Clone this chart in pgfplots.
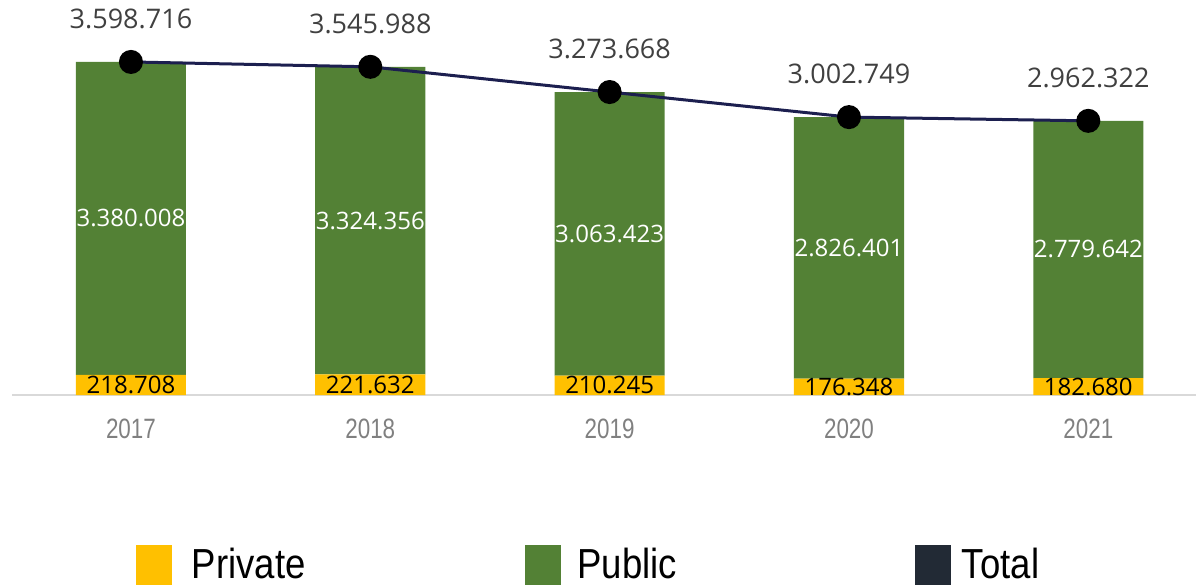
\documentclass[border=0pt]{standalone}
\usepackage{fontspec}
\setmainfont{Open Sans}
\newfontfamily\yearfont[FakeStretch=0.8]{Liberation Sans}
\newfontfamily\legfont[FakeStretch=0.87]{Liberation Sans}
\usepackage{pgfplots}
\usepackage{pgfplotstable}
\pgfplotsset{compat=1.18}
\definecolor{cPriv}{HTML}{FFC000}
\definecolor{cPub}{HTML}{538135}
\definecolor{cTot}{HTML}{222A35}
\definecolor{cLine}{HTML}{1C1F4F}
\definecolor{cLab}{HTML}{404040}
\definecolor{cYear}{HTML}{808080}
\definecolor{cAxis}{HTML}{D9D9D9}

\pgfplotstableread{
x private public total pubmid privmid totlab publab privlab
0 218708 3380008 3598716 1908712 109354 3.598.716 3.380.008 218.708
1 221632 3324356 3545988 1883810 110816 3.545.988 3.324.356 221.632
2 210245 3063423 3273668 1741957 105123 3.273.668 3.063.423 210.245
3 176348 2826401 3002749 1589549 88174 3.002.749 2.826.401 176.348
4 182680 2779642 2962322 1572501 91340 2.962.322 2.779.642 182.680
}\data

\pgfplotsset{
  base/.style={
    scale only axis, width=592pt, height=197.5pt,
    xmin=-0.497, xmax=4.45, ymin=0, ymax=4268000,
    clip=false, at={(6pt,95pt)}, anchor=south west,
  }
}

\begin{document}
\begin{tikzpicture}
\useasboundingbox (0,0) rectangle (598pt,292.5pt);
\begin{axis}[base,
  ybar stacked, bar width=0.46,
  axis y line=none, axis x line*=bottom,
  x axis line style={draw=cAxis, line width=1pt, -},
  xtick={0,1,2,3,4}, xticklabels={2017,2018,2019,2020,2021},
  major tick length=0pt,
  xticklabel style={font=\yearfont\fontsize{14}{16}\selectfont, text=cYear, yshift=-8.5pt},
]
\addplot[fill=cPriv, draw=none] table[x=x,y=private]{\data};
\addplot[fill=cPub, draw=none] table[x=x,y=public]{\data};
\end{axis}

\begin{axis}[base, hide axis,
  legend columns=3,
  legend image code/.code={\fill[#1] (0pt,-10pt) rectangle (18pt,10pt);},
  legend cell align=left,
  legend style={at={(0.1047,-0.3797)}, anchor=north west, draw=none, fill=none,
    inner sep=0pt, outer sep=0pt,
    nodes={inner sep=0pt, text width=166.75pt, align=left, font=\legfont\fontsize{21}{24}\selectfont},
    /tikz/every odd column/.append style={column sep=10pt}},
]
\addplot[forget plot, only marks, mark=none, nodes near coords, point meta=explicit symbolic,
  every node near coord/.append style={anchor=center, text=black, font=\fontsize{12}{14}\selectfont}]
  table[x=x, y=privmid, meta=privlab]{\data};
\addplot[forget plot, only marks, mark=none, nodes near coords, point meta=explicit symbolic,
  every node near coord/.append style={anchor=center, text=white, font=\fontsize{12}{14}\selectfont}]
  table[x=x, y=pubmid, meta=publab]{\data};
\addplot[forget plot, cLine, line width=1.5pt, mark=*, mark size=5.25pt,
  mark options={fill=black, draw=black},
  nodes near coords, point meta=explicit symbolic,
  every node near coord/.append style={anchor=center, yshift=21.5pt, text=cLab, font=\fontsize{13.5}{16}\selectfont}]
  table[x=x, y=total, meta=totlab]{\data};
\addlegendimage{fill=cPriv, draw=none}
\addlegendentry{Private}
\addlegendimage{fill=cPub, draw=none}
\addlegendentry{\hspace{-2pt}Public}
\addlegendimage{fill=cTot, draw=none}
\addlegendentry{\hspace{-4.5pt}Total}
\end{axis}
\end{tikzpicture}
\end{document}
